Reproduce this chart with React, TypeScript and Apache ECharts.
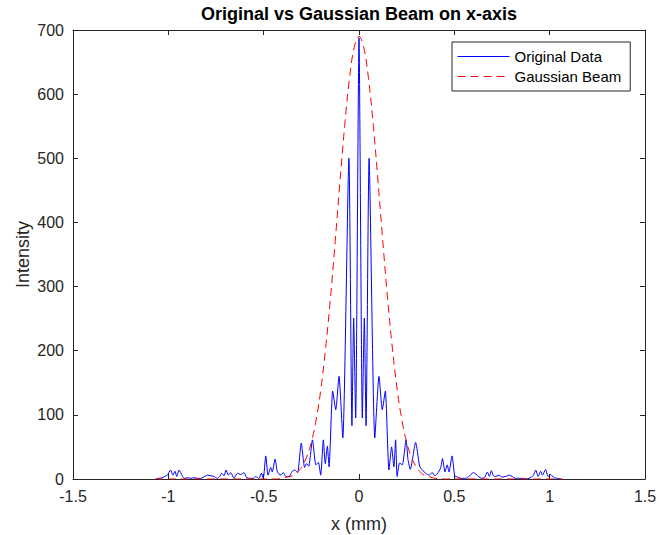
import React, { useEffect, useRef } from "react";
import * as echarts from "echarts";

// ---- Data ----
const BLUE_X = [
  -1.065, -1.05, -1.032, -1.018, -1.005, -0.988, -0.976, -0.965, -0.956, -0.944,
  -0.935, -0.927, -0.914, -0.9, -0.882, -0.865, -0.848, -0.83, -0.808, -0.795,
  -0.777, -0.76, -0.743, -0.73, -0.72, -0.708, -0.697, -0.685, -0.672, -0.656,
  -0.638, -0.62, -0.603, -0.589, -0.57, -0.555, -0.542, -0.525, -0.512, -0.502,
  -0.489, -0.477, -0.463, -0.455, -0.44, -0.428, -0.41, -0.397, -0.384, -0.367,
  -0.35, -0.337, -0.322, -0.303, -0.285, -0.275, -0.264, -0.244, -0.226, -0.213,
  -0.201, -0.187, -0.177, -0.166, -0.157, -0.138, -0.122, -0.105, -0.085, -0.053,
  -0.037, -0.028, -0.0175, 0,
  0.0175, 0.028, 0.037, 0.053, 0.083, 0.105, 0.122, 0.138, 0.157, 0.171,
  0.183, 0.192, 0.2, 0.213, 0.227, 0.247, 0.257, 0.269, 0.297, 0.318,
  0.332, 0.35, 0.367, 0.384, 0.398, 0.41, 0.428, 0.438, 0.451, 0.463,
  0.472, 0.488, 0.502, 0.516, 0.533, 0.55, 0.57, 0.586, 0.6, 0.612,
  0.625, 0.645, 0.66, 0.673, 0.684, 0.694, 0.705, 0.717, 0.734, 0.75,
  0.77, 0.787, 0.804, 0.82, 0.84, 0.857, 0.875, 0.892, 0.913, 0.927,
  0.939, 0.953, 0.962, 0.979, 0.991, 1.005, 1.023, 1.04, 1.058,
];
const BLUE_V = [
  0, 1, 2, 4, 6, 14, 6, 12, 4, 14,
  10, 5, 1, 2, 1, 2, 1, 1, 4, 6,
  5, 4, 1, 4, 9, 5, 14, 6, 10, 1,
  9, 7, 10, 2, 1, 1, 4, 1, 9, 1,
  36, 6, 18, 11, 31, 11, 6, 10, 4, 4,
  12, 14, 10, 56, 18, 24, 20, 61, 22, 26,
  6, 61, 24, 51, 19, 137, 108, 160, 64, 500,
  83, 251, 95, 688,
  95, 251, 83, 500, 64, 160, 108, 137, 14, 50,
  19, 61, 4, 25, 22, 61, 30, 15, 57, 20,
  14, 9, 6, 10, 5, 8, 17, 32, 11, 22,
  11, 36, 5, 3, 1, 1, 2, 7, 10, 8,
  4, 1, 3, 11, 4, 13, 5, 4, 6, 3,
  4, 6, 4, 1, 1, 1, 0, 1, 5, 14,
  4, 12, 6, 15, 4, 7, 2, 1, 0,
];

const RED_X = [
  -1.07, -0.5, -0.45, -0.4, -0.375, -0.35, -0.325, -0.3, -0.275, -0.25,
  -0.225, -0.2, -0.175, -0.15, -0.125, -0.1, -0.075, -0.05, -0.025, 0,
  0.025, 0.05, 0.075, 0.1, 0.125, 0.15, 0.175, 0.2, 0.225, 0.25,
  0.275, 0.3, 0.325, 0.35, 0.375, 0.4, 0.45, 0.5, 1.07,
];
const RED_V = [
  0, 0, 0, 1, 3, 5, 10, 19, 34, 57,
  92, 140, 204, 281, 370, 463, 551, 624, 673, 690,
  673, 624, 551, 463, 370, 281, 204, 140, 92, 57,
  34, 19, 10, 5, 3, 1, 0, 0, 0,
];

const X_MIN = -1.5;
const X_MAX = 1.5;
const X_STEP = 0.5;
const Y_MIN = 0;
const Y_MAX = 700;
const Y_STEP = 100;

const TITLE = "Original vs Gaussian Beam on x-axis";
const SERIES_NAMES = ["Original Data", "Gaussian Beam"];

const FONT = "'Liberation Sans', Arial, Helvetica, sans-serif";
const AXIS_COLOR = "#262626";

export default function App() {
  const ref = useRef<HTMLDivElement>(null);

  useEffect(() => {
    if (!ref.current) return;
    const chart = echarts.init(ref.current, undefined, { renderer: "svg" });

    const blue = BLUE_X.map((x, i) => [x, BLUE_V[i]]);
    const red = RED_X.map((x, i) => [x, RED_V[i]]);

    const axisLineCommon = {
      show: true,
      onZero: false,
      lineStyle: { color: AXIS_COLOR, width: 1 },
    };
    const tickCommon = {
      show: true,
      inside: true,
      length: 5,
      lineStyle: { color: AXIS_COLOR, width: 1 },
    };

    chart.setOption({
      animation: false,
      backgroundColor: "#ffffff",
      textStyle: { fontFamily: FONT },
      grid: {
        left: 73,
        right: 14,
        top: 30,
        bottom: 56,
        containLabel: false,
        outerBoundsMode: "none",
      },
      graphic: [
        {
          type: "text",
          x: 359,
          y: 14,
          style: {
            text: TITLE,
            fill: "#000",
            font: `bold 18px ${FONT}`,
            textAlign: "center",
            textVerticalAlign: "middle",
          },
        },
      ],
      legend: {
        data: SERIES_NAMES,
        orient: "vertical",
        left: 452,
        top: 42,
        itemWidth: 52,
        itemHeight: 14,
        itemGap: 5,
        padding: [7, 9, 7, 5],
        backgroundColor: "#ffffff",
        borderColor: AXIS_COLOR,
        borderWidth: 1,
        borderRadius: 0,
        selectedMode: false,
        itemStyle: { opacity: 0 },
        lineStyle: { width: 1 },
        textStyle: { fontSize: 15, color: "#000", fontFamily: FONT },
      },
      xAxis: [
        {
          type: "value",
          position: "bottom",
          min: X_MIN,
          max: X_MAX,
          interval: X_STEP,
          axisLine: axisLineCommon,
          axisTick: tickCommon,
          splitLine: { show: false },
          axisLabel: { color: AXIS_COLOR, fontSize: 16, margin: 9, fontFamily: FONT },
          name: "x (mm)",
          nameLocation: "middle",
          nameGap: 36,
          nameTextStyle: { color: AXIS_COLOR, fontSize: 18, fontFamily: FONT },
        },
        {
          type: "value",
          position: "top",
          min: X_MIN,
          max: X_MAX,
          interval: X_STEP,
          axisLine: axisLineCommon,
          axisTick: tickCommon,
          splitLine: { show: false },
          axisLabel: { show: false },
        },
      ],
      yAxis: [
        {
          type: "value",
          position: "left",
          min: Y_MIN,
          max: Y_MAX,
          interval: Y_STEP,
          axisLine: axisLineCommon,
          axisTick: tickCommon,
          splitLine: { show: false },
          axisLabel: { color: AXIS_COLOR, fontSize: 16, margin: 9, fontFamily: FONT },
          name: "Intensity",
          nameLocation: "middle",
          nameGap: 41,
          nameMoveOverlap: false,
          nameRotate: 90,
          nameTextStyle: { color: AXIS_COLOR, fontSize: 18, fontFamily: FONT },
        },
        {
          type: "value",
          position: "right",
          min: Y_MIN,
          max: Y_MAX,
          interval: Y_STEP,
          axisLine: axisLineCommon,
          axisTick: tickCommon,
          splitLine: { show: false },
          axisLabel: { show: false },
        },
      ],
      series: [
        {
          name: SERIES_NAMES[0],
          type: "line",
          data: blue,
          xAxisIndex: 0,
          yAxisIndex: 0,
          symbol: "none",
          showSymbol: false,
          smooth: 0.2,
          lineStyle: { color: "#0000ff", width: 1 },
          itemStyle: { color: "#0000ff" },
          z: 2,
        },
        {
          name: SERIES_NAMES[1],
          type: "line",
          data: red,
          xAxisIndex: 0,
          yAxisIndex: 0,
          symbol: "none",
          showSymbol: false,
          smooth: 0.4,
          lineStyle: { color: "#ff0000", width: 1, type: [8, 5] },
          itemStyle: { color: "#ff0000" },
          z: 3,
        },
      ],
    });

    return () => chart.dispose();
  }, []);

  return (
    <div
      ref={ref}
      style={{ position: "absolute", left: 0, top: 0, width: 659, height: 535 }}
    />
  );
}
